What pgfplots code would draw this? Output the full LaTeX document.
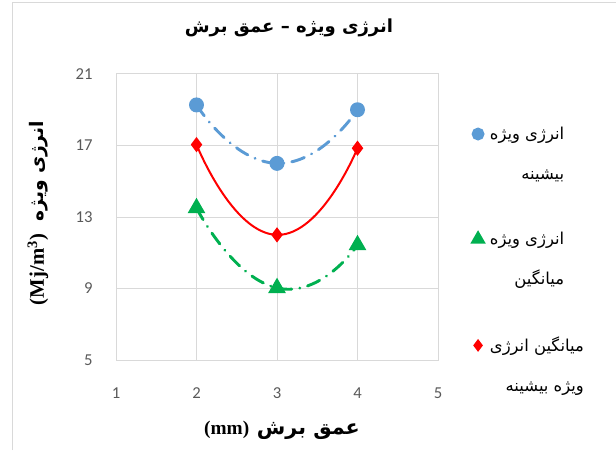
\documentclass[border=0pt]{standalone}
\usepackage{fontspec}
\usepackage{pgfplots}
\pgfplotsset{compat=1.18}
\setmainfont{Carlito}
\newfontfamily\arabicfont[Script=Arabic]{DejaVu Sans}
\newfontfamily\timesfont{Liberation Serif}
\TeXXeTstate=1
\definecolor{cblue}{HTML}{5B9BD5}
\definecolor{cgreen}{HTML}{00B050}
\definecolor{cred}{HTML}{FF0000}
\definecolor{gridgray}{HTML}{D9D9D9}
\definecolor{tickgray}{HTML}{595959}
\begin{document}
\begin{tikzpicture}[x=0.75pt,y=0.75pt]
\path[use as bounding box] (0,0) rectangle (616,450);
\draw[gridgray, line width=0.75pt] (12,0) -- (12,447) -- (616,447);
\begin{axis}[
  at={(87pt,67.5pt)}, anchor=south west,
  scale only axis, width=241.5pt, height=214.5pt,
  xmin=1, xmax=5, ymin=5, ymax=21,
  xtick={1,2,3,4,5}, ytick={5,9,13,17,21},
  grid=major, grid style={gridgray, line width=0.75pt},
  axis line style={gridgray, line width=0.75pt},
  tick style={draw=none},
  /pgf/number format/assume math mode=true,
  ticklabel style={font=\fontsize{12.5}{15}\selectfont, text=tickgray},
  xticklabel style={yshift=-17pt},
  yticklabel style={xshift=-14pt},
  legend style={at={(1.095,0.835)}, anchor=north west, draw=none, fill=none,
    font=\arabicfont\fontsize{12.3}{30}\selectfont, row sep=34pt,
    cells={align=right, anchor=west}},
  legend image code/.code={\draw[#1] plot coordinates {(0pt,15pt)};},
]
\addplot[cblue, line width=2.2pt, line cap=round, dash pattern=on 10pt off 6pt on 0.1pt off 6pt, smooth, tension=1,
  mark=*, mark size=4.5pt, mark options={solid, fill=cblue, draw=none},
  legend image post style={mark size=3.7pt}]
  coordinates {(2,19.27) (3,16.0) (4,19.0)};
\addlegendentry{\hspace{3pt}\beginR انرژی ویژه\endR\\\beginR بیشینه\endR}
\addplot[cgreen, line width=2.2pt, line cap=round, dash pattern=on 10pt off 6pt on 0.1pt off 6pt, smooth, tension=1,
  mark=triangle*, mark size=5.5pt, mark options={solid, fill=cgreen, draw=none},
  legend image post style={mark size=4.5pt}]
  coordinates {(2,13.5) (3,9.03) (4,11.43)};
\addlegendentry{\hspace{3pt}\beginR انرژی ویژه\endR\\\beginR میانگین\endR}
\addplot[cred, line width=1.5pt, smooth, tension=1,
  mark=diamond*, mark size=4.5pt, mark options={solid, fill=cred, draw=none},
  legend image post style={mark size=3.6pt}]
  coordinates {(2,17.05) (3,12.0) (4,16.85)};
\addlegendentry{\hspace{3pt}\beginR میانگین انرژی\endR\\\beginR ویژه بیشینه\endR}
\end{axis}
\node at (289,422) {\arabicfont\bfseries\fontsize{13.5}{15}\selectfont\beginR انرژی ویژه – عمق برش\endR};
\node[rotate=90] at (38,237) {\timesfont\bfseries\fontsize{15.5}{17}\selectfont (Mj/m\textsuperscript{3})\hspace{0.6em}{\arabicfont\fontsize{14}{17}\selectfont\beginR انرژی ویژه\endR}};
\node at (282,20) {\timesfont\bfseries\fontsize{14.5}{17}\selectfont (mm)\hspace{0.4em}{\arabicfont\fontsize{15.5}{17}\selectfont\beginR عمق برش\endR}};
\end{tikzpicture}
\end{document}
